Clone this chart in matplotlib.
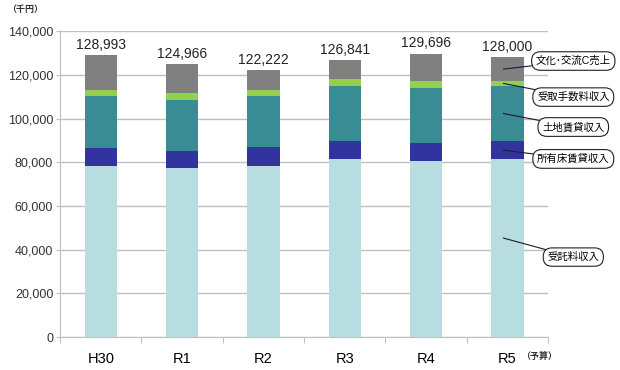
import matplotlib.pyplot as plt
import numpy as np
from matplotlib.ticker import FuncFormatter
from matplotlib.transforms import blended_transform_factory

plt.rcParams['font.family'] = ['Liberation Sans', 'Noto Sans CJK JP', 'DejaVu Sans']

years = ['H30', 'R1', 'R2', 'R3', 'R4', 'R5']
totals = [128993, 124966, 122222, 126841, 129696, 128000]

# 千円
itaku = [78100, 77300, 78300, 81500, 80700, 81300]      # 受託料収入
shoyu = [8500, 8000, 8800, 8300, 8100, 8400]            # 所有床賃貸収入
tochi = [23700, 23200, 23300, 25100, 25000, 25200]      # 土地賃貸収入
tesuryo = [2700, 3000, 2600, 3000, 3500, 2300]          # 受取手数料収入
# 文化・交流C売上 = remainder up to the total
bunka = [t - a - b - c - d for t, a, b, c, d in zip(totals, itaku, shoyu, tochi, tesuryo)]

series = [itaku, shoyu, tochi, tesuryo, bunka]
names = ['受託料収入', '所有床賃貸収入', '土地賃貸収入', '受取手数料収入', '文化･交流C売上']
colors = ['#B7DDE0', '#3333A0', '#3A8C94', '#92D050', '#808080']

fig = plt.figure(figsize=(6.2, 3.7), dpi=100)
ax = fig.add_axes([0.097, 0.089, 0.787, 0.827])

x = np.arange(len(years))
bottom = np.zeros(len(years))
mids = []
for vals, col in zip(series, colors):
    vals = np.array(vals)
    ax.bar(x, vals, 0.4, bottom=bottom, color=col, zorder=3)
    mids.append(bottom[-1] + vals[-1] / 2)
    bottom += vals

for xi, t in zip(x, totals):
    ax.text(xi, t + 1500, f'{t:,}', ha='center', va='bottom', fontsize=10, color='#222222')

ax.set_xlim(-0.5, 5.5)
ax.set_ylim(0, 140000)
ax.set_yticks(np.arange(0, 140001, 20000))
ax.yaxis.set_major_formatter(FuncFormatter(lambda v, p: f'{int(v):,}'))
ax.grid(axis='y', color='#BFBFBF', lw=1, zorder=0)
ax.set_xticks(np.arange(-0.5, 6, 1))
ax.set_xticklabels([])
ax.set_xticks(x, minor=True)
ax.set_xticklabels(years, minor=True, fontsize=10.5)
ax.tick_params(axis='x', which='minor', length=0, pad=11)
ax.tick_params(axis='x', which='major', length=4, color='#BFBFBF')
ax.tick_params(axis='y', length=3, color='#BFBFBF', labelsize=9, pad=2, labelcolor='#333333')
for s in ['top', 'right']:
    ax.spines[s].set_visible(False)
for s in ['left', 'bottom']:
    ax.spines[s].set_color('#BFBFBF')

trans = blended_transform_factory(ax.transData, ax.transAxes)
ax.text(5.17, -0.062, '（予算）', transform=trans, fontsize=6.5, fontweight='bold',
        ha='left', va='center', color='#333333')
fig.text(0.012, 0.975, '（千円）', fontsize=6.5, fontweight='bold', ha='left', va='center', color='#333333')

# callouts pointing into the last bar
label_y = [36600, 81500, 96100, 109800, 126300]
point_y = [45300, mids[1], mids[2], mids[3], mids[4]]
for name, py, ly in zip(names, point_y, label_y):
    ax.annotate(name, xy=(4.95, py), xytext=(5.81, ly), fontsize=7.5,
                ha='center', va='center', annotation_clip=False,
                bbox=dict(boxstyle='round,pad=0.4,rounding_size=0.85', fc='white', ec='#222222', lw=0.8),
                arrowprops=dict(arrowstyle='-', color='#1a1a3a', lw=0.8, shrinkA=0, shrinkB=0))

fig.savefig('out.png', dpi=100)
